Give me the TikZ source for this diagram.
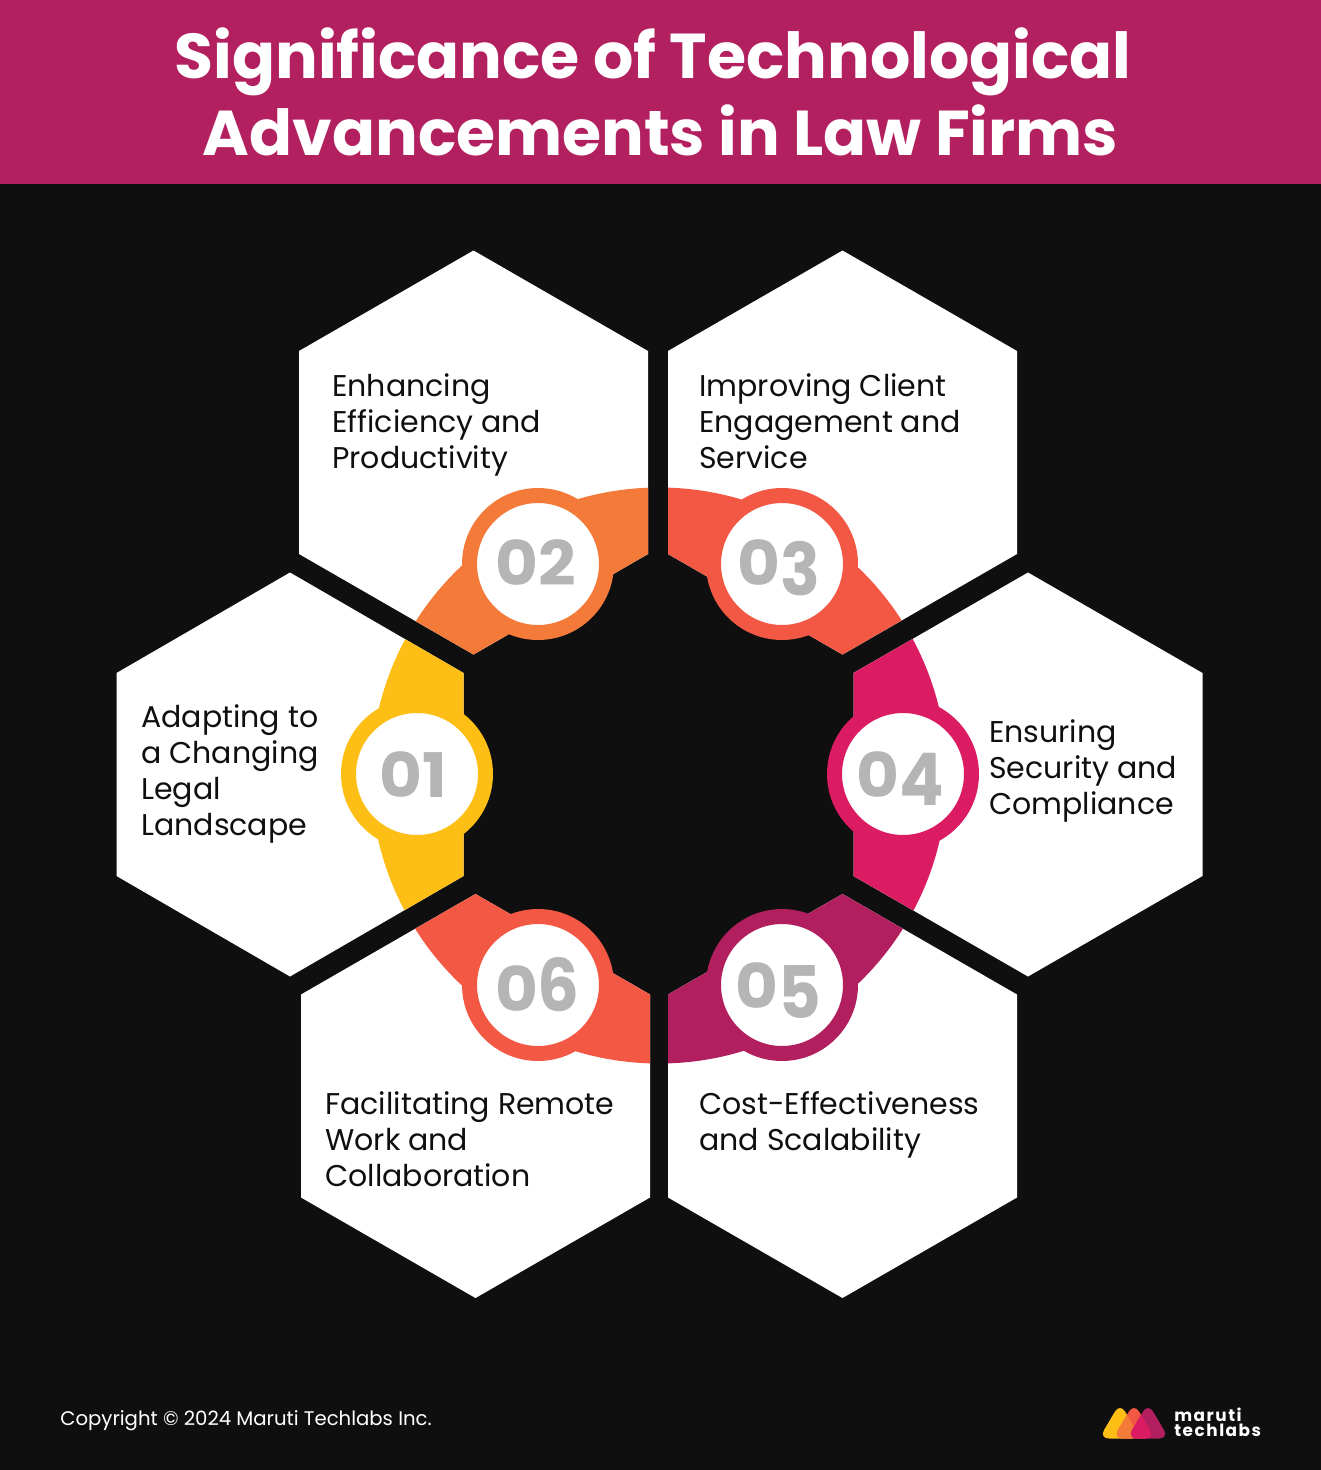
\documentclass[tikz,border=0pt]{standalone}
\usepackage{fontspec}
\setmainfont{Poppins}
\newfontfamily\logofont[LetterSpace=9]{Poppins}
\newfontfamily\digitfont[FakeStretch=1.07]{Poppins}
\definecolor{pagebg}{HTML}{0F0F0F}
\definecolor{headbg}{HTML}{B32060}
\definecolor{amber}{HTML}{FDBE16}
\definecolor{tangerine}{HTML}{F47A3A}
\definecolor{coral}{HTML}{F25843}
\definecolor{crimson}{HTML}{DC1C62}
\definecolor{plum}{HTML}{B21F5E}
\definecolor{digitgray}{HTML}{B5B5B5}
\tikzset{
    badge/.style={circle, draw=#1, line width=0.3cm, fill=white, inner sep=0, minimum size=2.74cm},
    numeral/.style={inner sep=0, text=digitgray, font=\fontsize{35}{36}\digitfont\bfseries},
    label/.style={anchor=north west, align=left, inner sep=0, text=pagebg,
        font=\fontsize{17.07}{20.5}\selectfont},
    logopart/.style={rounded corners=0.2cm},
}
% one white hexagon with its piece of the ring
\newcommand{\hexcell}[4][174.5]{
    \def\hexpath{(#2-#1, #3-101.5) -- (#2, #3-202) -- (#2+#1, #3-101.5) -- (#2+#1, #3+101.5) -- (#2, #3+202) -- (#2-#1, #3+101.5) -- cycle}
    \fill[white] \hexpath;
    \begin{scope}
        \clip \hexpath;
        \fill[#4] (659, 775.5) circle [radius=288];
    \end{scope}
}
% figure that hangs below or stands above the line
\newcommand{\tallfig}[2]{\raisebox{#1}[0pt][0pt]{\scalebox{1}[1.18]{#2}}}
\newcommand{\logotri}[1]{(#1, 1403) -- (#1+21, 1438.5) -- (#1-21, 1438.5) -- cycle}

\begin{document}
\begin{tikzpicture}[x=0.02cm, y=-0.02cm]
    \useasboundingbox (0, 0) rectangle (1321, 1470);
    \fill[pagebg] (0, 0) rectangle (1321, 1470);
    \fill[headbg] (0, 0) rectangle (1321, 184);

    \node[text=white, align=center, font=\fontsize{36.07}{43.8}\selectfont\bfseries] (title) at (653, 91.5)
        {Significance of Technological\\\hspace*{0.3cm}Advancements in Law Firms};

    \hexcell[173.5]{290}{774.5}{amber}
    \hexcell{473.5}{452.5}{tangerine}
    \hexcell{842.5}{452.5}{coral}
    \hexcell{1028}{774.5}{crimson}
    \hexcell{842.5}{1096}{plum}
    \hexcell{475.5}{1096}{coral}

    \node[badge=amber] (b01) at (417, 774) {};
    \node[badge=tangerine] (b02) at (538, 564) {};
    \node[badge=coral] (b03) at (782, 564) {};
    \node[badge=crimson] (b04) at (903, 774) {};
    \node[badge=plum] (b05) at (782, 985) {};
    \node[badge=coral] (b06) at (538, 985) {};

    \node[numeral] (n01) at (413.5, 774.5) {01};
    \node[numeral] (n02) at (535.5, 562.5) {02};
    \node[numeral] (n03) at (778.5, 562.5) {0\tallfig{-5.7pt}{3}};
    \node[numeral] (n04) at (900.5, 774.5) {0\tallfig{-4.5pt}{4}};
    \node[numeral] (n05) at (778, 985.5) {0\tallfig{-5.7pt}{5}};
    \node[numeral] (n06) at (537.5, 988.5) {0\tallfig{0pt}{6}};

    \node[label] (t01) at (141, 704) {Adapting to\\a Changing\\Legal\\Landscape};
    \node[label] (t02) at (332, 373) {Enhancing\\Efficiency and\\Productivity};
    \node[label] (t03) at (699, 373) {Improving Client\\Engagement and\\Service};
    \node[label] (t04) at (989, 719) {Ensuring\\Security and\\Compliance};
    \node[label] (t05) at (699, 1091) {Cost-Effectiveness\\and Scalability};
    \node[label] (t06) at (325, 1091) {Facilitating Remote\\Work and\\Collaboration};

    \node[anchor=west, inner sep=0, text=white, font=\fontsize{11.2}{14}\selectfont] (copy) at (60, 1421)
        {Copyright © 2024 Maruti Techlabs Inc.};

    % logo
    \fill[amber, logopart] \logotri{1120};
    \fill[coral, logopart] \logotri{1134};
    \begin{scope}
        \clip[logopart] \logotri{1120};
        \fill[tangerine, logopart] \logotri{1134};
    \end{scope}
    \fill[plum, logopart] \logotri{1148};
    \begin{scope}
        \clip[logopart] \logotri{1134};
        \fill[crimson, logopart] \logotri{1148};
    \end{scope}
    \node[anchor=west, align=left, inner sep=0, text=white, font=\fontsize{9.6}{8.6}\logofont\bfseries] (logotext) at (1174, 1422.5)
        {maruti\\techlabs};
\end{tikzpicture}
\end{document}
